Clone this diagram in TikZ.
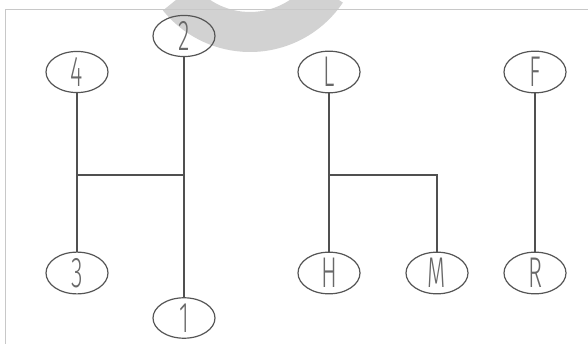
\documentclass[tikz,border=0pt]{standalone}
\usepackage{fontspec}
\newfontfamily\lblfont{Fira Sans Light}
\usetikzlibrary{shapes.geometric,calc}
\definecolor{linec}{HTML}{505050}
\definecolor{ellc}{HTML}{555555}
\definecolor{txtc}{HTML}{686868}
\definecolor{wmc}{HTML}{D2D2D2}
\definecolor{framec}{HTML}{C8C8C8}
\newcommand\glab[1]{\scalebox{0.55}[1]{\lblfont\fontsize{43}{43}\selectfont #1}}
\begin{document}
\begin{tikzpicture}[x=1pt,y=-1pt,
  gear/.style={ellipse, draw=ellc, line width=1.2pt, minimum width=62pt, minimum height=38pt, inner sep=0pt, text=txtc},
  conn/.style={draw=linec, line width=1.1pt}]
\useasboundingbox (0,0) rectangle (588,344);
\fill[white] (0,0) rectangle (588,344);
% watermark
\begin{scope}
\clip (0,0) rectangle (588,344);
\fill[wmc] ($(250,-60)+(34:112)$) arc[start angle=34,end angle=141,radius=112]
  -- ($(250,-60)+(141:72)$) arc[start angle=141,end angle=34,radius=72] -- cycle;
\end{scope}
% frame
\draw[framec, line width=0.8pt] (5,344) -- (5,9.5) -- (588,9.5);
% nodes
\node[gear] (n2) at (184,36) {\glab{2}};
\node[gear] (n4) at (77,72) {\glab{4}};
\node[gear] (n3) at (77,273) {\glab{3}};
\node[gear] (n1) at (184,318) {\glab{1}};
\node[gear] (nL) at (329,72) {\glab{L}};
\node[gear] (nF) at (535,72) {\glab{F}};
\node[gear] (nH) at (329,273) {\glab{H}};
\node[gear] (nM) at (437,273) {\glab{M}};
\node[gear] (nR) at (535,273) {\glab{R}};
% connectors
\coordinate (a) at (77,175);
\coordinate (b) at (184,175);
\coordinate (c) at (329,175);
\coordinate (d) at (437,175);
\draw[conn] (n4) -- (n3);
\draw[conn] (n2) -- (n1);
\draw[conn] (a) -- (b);
\draw[conn] (nL) -- (nH);
\draw[conn] (c) -- (d) -- (nM);
\draw[conn] (nF) -- (nR);
\end{tikzpicture}
\end{document}
